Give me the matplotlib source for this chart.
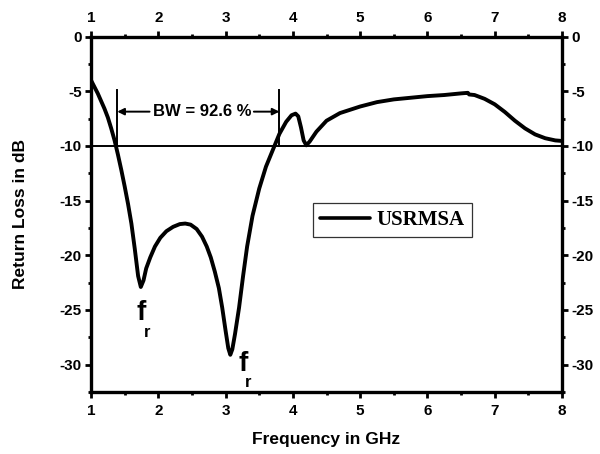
import matplotlib
matplotlib.use("Agg")
import matplotlib.pyplot as plt
from matplotlib.ticker import MultipleLocator

# Measured return loss of the USRMSA antenna
freq_ghz = [1.00, 1.05, 1.10, 1.15, 1.20, 1.25, 1.30, 1.35, 1.40, 1.45,
            1.50, 1.55, 1.60, 1.65, 1.70, 1.74, 1.78, 1.82, 1.88, 1.95,
            2.03, 2.12, 2.22, 2.32, 2.40, 2.48, 2.57, 2.65, 2.72, 2.78,
            2.84, 2.90, 2.95, 3.00, 3.04, 3.07, 3.10, 3.14, 3.20, 3.26,
            3.32, 3.40, 3.50, 3.60, 3.70, 3.80, 3.90, 3.98, 4.04, 4.08,
            4.12, 4.16, 4.20, 4.25, 4.35, 4.50, 4.70, 5.00, 5.25, 5.50,
            5.75, 6.00, 6.25, 6.50, 6.60, 6.62, 6.70, 6.85, 7.00, 7.15,
            7.30, 7.45, 7.60, 7.75, 7.90, 8.00]
return_loss_db = [-4.0, -4.6, -5.2, -5.9, -6.6, -7.4, -8.4, -9.5, -10.8, -12.2,
                  -13.7, -15.3, -17.1, -19.4, -21.9, -22.9, -22.3, -21.2, -20.2, -19.2,
                  -18.4, -17.8, -17.4, -17.15, -17.1, -17.2, -17.6, -18.3, -19.2, -20.2,
                  -21.5, -23.0, -24.8, -26.9, -28.5, -29.1, -28.6, -27.2, -24.8, -21.9,
                  -19.2, -16.4, -13.9, -11.9, -10.4, -8.9, -7.8, -7.2, -7.05, -7.3,
                  -8.3, -9.5, -9.95, -9.6, -8.7, -7.7, -7.0, -6.4, -6.0, -5.75,
                  -5.6, -5.45, -5.35, -5.2, -5.15, -5.3, -5.35, -5.7, -6.2, -6.9,
                  -7.7, -8.4, -8.95, -9.3, -9.5, -9.55]

series_name = "USRMSA"
threshold_db = -10
bw_low_ghz = 1.39
bw_high_ghz = 3.80
bw_label = "BW = 92.6 %"
resonances = [(1.75, -25.3), (3.26, -29.9)]

x_ticks = [1, 2, 3, 4, 5, 6, 7, 8]
y_ticks = [0, -5, -10, -15, -20, -25, -30]

sans = ["Liberation Sans", "DejaVu Sans"]
serif = ["Liberation Serif", "DejaVu Serif"]
plt.rcParams["font.family"] = sans
plt.rcParams["axes.unicode_minus"] = False

fig = plt.figure(figsize=(6.0, 4.54), dpi=100)
ax = fig.add_axes([0.1517, 0.1366, 0.785, 0.783])

line, = ax.plot(freq_ghz, return_loss_db, color="black", lw=2.8,
                solid_capstyle="round", solid_joinstyle="round", zorder=3)
ax.axhline(threshold_db, color="black", lw=1.4, zorder=2)

# Bandwidth markers
ax.plot([bw_low_ghz, bw_low_ghz], [-4.9, threshold_db], color="black", lw=1.4)
ax.plot([bw_high_ghz, bw_high_ghz], [-4.9, threshold_db], color="black", lw=1.4)
ax.text(2.65, -6.87, bw_label, ha="center", va="center", fontsize=12,
        fontweight="bold", family=sans)
ax.annotate("", xy=(bw_low_ghz, -6.87), xytext=(1.87, -6.87),
            arrowprops=dict(arrowstyle="-|>", color="black", lw=1.4,
                            mutation_scale=10, shrinkA=0, shrinkB=0))
ax.annotate("", xy=(bw_high_ghz, -6.87), xytext=(3.42, -6.87),
            arrowprops=dict(arrowstyle="-|>", color="black", lw=1.4,
                            mutation_scale=10, shrinkA=0, shrinkB=0))

# Resonance labels
for fx, fy in resonances:
    ax.text(fx, fy, "f", ha="center", va="center", fontsize=20,
            fontweight="bold", family=sans)
    ax.text(fx + 0.08, fy - 1.75, "r", ha="center", va="center", fontsize=12,
            fontweight="bold", family=sans)

ax.set_xlim(1, 8)
ax.set_ylim(-32.5, 0)
ax.set_xticks(x_ticks)
ax.set_yticks(y_ticks)
ax.xaxis.set_minor_locator(MultipleLocator(0.5))
ax.yaxis.set_minor_locator(MultipleLocator(2.5))

for sp in ax.spines.values():
    sp.set_linewidth(2.4)

ax.tick_params(which="both", direction="out", top=True, right=True,
               labeltop=True, labelright=True, width=2.0)
ax.tick_params(which="major", length=4.0, labelsize=11)
ax.tick_params(which="minor", length=2.5)
ax.tick_params(axis="y", which="major", pad=2.5)
ax.tick_params(axis="x", which="major", pad=4.5)
for t in ax.xaxis.get_major_ticks() + ax.yaxis.get_major_ticks():
    t.label1.set_fontweight("bold")
    t.label2.set_fontweight("bold")

ax.set_xlabel("Frequency in GHz", fontsize=12.5, fontweight="bold")
ax.set_ylabel("Return Loss in dB", fontsize=12.5, fontweight="bold")
ax.xaxis.set_label_coords(0.5, -0.113)
ax.yaxis.set_label_coords(-0.134, 0.5)

leg = ax.legend([line], [series_name], loc="upper left",
                bbox_to_anchor=(0.4707, 0.5325), borderaxespad=0.0,
                frameon=True, fancybox=False,
                handlelength=2.4, handletextpad=0.3, borderpad=0.35,
                prop=dict(family=serif, weight="bold", size=15))
leg.get_frame().set_edgecolor("black")
leg.get_frame().set_linewidth(0.9)
leg.get_lines()[0].set_linewidth(2.6)

fig.savefig("out.png", dpi=100)
